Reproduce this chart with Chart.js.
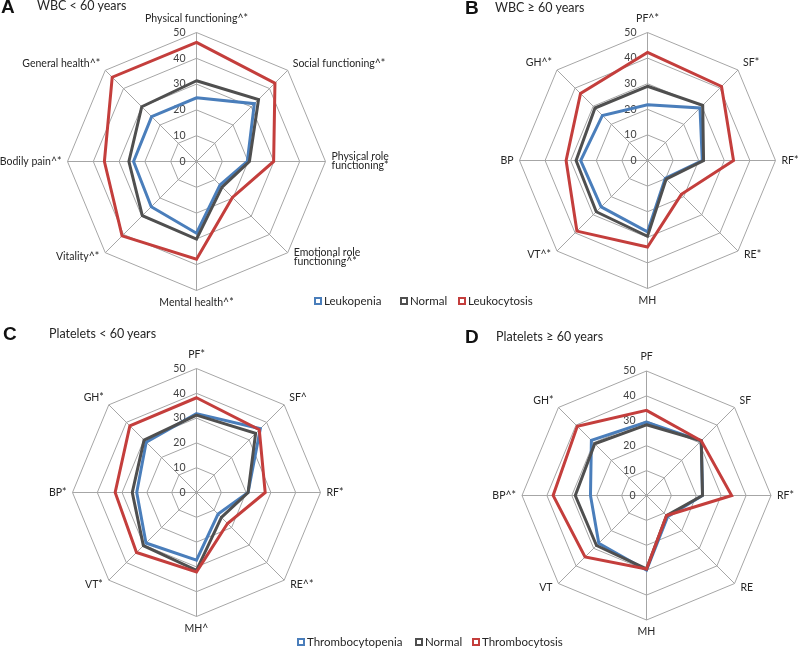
<!DOCTYPE html>
<html lang="en">
<head>
    <meta charset="UTF-8">
    <title>SF-36 radar charts by WBC and platelets</title>
    <style>
        body {
            margin: 0;
            background: #ffffff;
            font-family: Lato, "Open Sans", sans-serif;
            color: #262626;
        }

        .page {
            position: relative;
            width: 800px;
            height: 649px;
            overflow: hidden;
        }

        canvas {
            position: absolute;
        }

        .letter {
            position: absolute;
            font-family: "Liberation Sans", Arial, sans-serif;
            font-weight: bold;
            font-size: 19px;
            line-height: 20px;
            color: #111;
        }

        .title {
            position: absolute;
            font-size: 12.5px;
            line-height: 16px;
            white-space: nowrap;
        }

        .legend-item {
            position: absolute;
            display: flex;
            align-items: center;
            font-size: 11.5px;
            line-height: 14px;
            white-space: nowrap;
        }

        .legend-item span.box {
            box-sizing: border-box;
            width: 8px;
            height: 8px;
            border: 2.5px solid;
            background: #fff;
            margin-right: 2px;
        }
    </style>
    <script src="https://cdn.jsdelivr.net/npm/chart.js"></script>
</head>
<body>
<div class="page">
    <canvas id="chartA" width="420" height="320" style="left:0;top:0"></canvas>
    <canvas id="chartB" width="380" height="320" style="left:420px;top:0"></canvas>
    <canvas id="chartC" width="420" height="329" style="left:0;top:320px"></canvas>
    <canvas id="chartD" width="380" height="329" style="left:420px;top:320px"></canvas>

    <div class="letter" style="left:1px;top:-3px">A</div>
    <div class="title" style="left:37px;top:-2px">WBC &lt; 60 years</div>
    <div class="letter" style="left:465px;top:-2px">B</div>
    <div class="title" style="left:495px;top:0px">WBC ≥ 60 years</div>
    <div class="letter" style="left:3px;top:324px">C</div>
    <div class="title" style="left:49px;top:326px">Platelets &lt; 60 years</div>
    <div class="letter" style="left:465px;top:327px">D</div>
    <div class="title" style="left:496px;top:329px">Platelets ≥ 60 years</div>

    <div class="legend-item" style="left:314px;top:294px"><span class="box" style="border-color:#4a7ebb"></span>Leukopenia</div>
    <div class="legend-item" style="left:400px;top:294px"><span class="box" style="border-color:#4f4f4f"></span>Normal</div>
    <div class="legend-item" style="left:458px;top:294px"><span class="box" style="border-color:#c43e3c"></span>Leukocytosis</div>

    <div class="legend-item" style="left:297px;top:635px"><span class="box" style="border-color:#4a7ebb"></span>Thrombocytopenia</div>
    <div class="legend-item" style="left:415px;top:635px"><span class="box" style="border-color:#4f4f4f"></span>Normal</div>
    <div class="legend-item" style="left:472px;top:635px"><span class="box" style="border-color:#c43e3c"></span>Thrombocytosis</div>
</div>

<script>
    // spoke labels, clockwise from the top
    const wbcYoungLabels = ['Physical functioning^*', 'Social functioning^*', ['Physical role', 'functioning*'],
        ['Emotional role', 'functioning^*'], 'Mental health^*', 'Vitality^*', 'Bodily pain^*', 'General health^*'];
    const wbcOldLabels = ['PF^*', 'SF*', 'RF*', 'RE*', 'MH', 'VT^*', 'BP', 'GH^*'];
    const pltYoungLabels = ['PF*', 'SF^', 'RF*', 'RE^*', 'MH^', 'VT*', 'BP*', 'GH*'];
    const pltOldLabels = ['PF', 'SF', 'RF*', 'RE', 'MH', 'VT', 'BP^*', 'GH*'];
    const tickValues = [0, 10, 20, 30, 40, 50];

    // A: WBC < 60 years
    const leukopeniaYoung = [24.7, 31.7, 19.7, 12.9, 27.8, 24.8, 24.4, 24.6];
    const normalWbcYoung = [31.3, 34.0, 20.5, 14.0, 30.1, 29.7, 26.2, 30.0];
    const leukocytosisYoung = [46.2, 43.0, 29.9, 19.7, 37.9, 40.8, 35.7, 46.2];

    // B: WBC >= 60 years
    const leukopeniaOld = [21.8, 29.0, 21.4, 9.8, 27.9, 25.6, 26.1, 24.9];
    const normalWbcOld = [29.0, 30.5, 21.9, 10.3, 29.6, 28.3, 27.9, 29.0];
    const leukocytosisOld = [42.2, 40.9, 33.6, 18.7, 33.8, 39.0, 31.8, 37.0];

    // C: Platelets < 60 years
    const thrombocytopeniaYoung = [31.8, 36.4, 20.8, 12.3, 27.3, 28.8, 24.1, 28.7];
    const normalPltYoung = [31.2, 33.7, 20.8, 14.2, 31.4, 30.3, 25.9, 29.9];
    const thrombocytosisYoung = [38.2, 35.8, 27.7, 17.7, 32.0, 34.2, 32.8, 38.0];

    // D: Platelets >= 60 years
    const thrombocytopeniaOld = [29.5, 31.1, 22.5, 12.0, 30.0, 27.1, 22.5, 31.3];
    const normalPltOld = [28.4, 31.1, 22.5, 11.4, 29.5, 28.4, 28.6, 29.4];
    const thrombocytosisOld = [34.2, 31.1, 34.2, 11.4, 29.5, 34.9, 37.5, 39.3];

    const seriesColors = ['#4a7ebb', '#4f4f4f', '#c43e3c'];

    // tick numbers sit left of the vertical spoke, spoke labels outside the outer ring
    const spokeLabels = {
        id: 'spokeLabels',
        beforeDatasetsDraw(chart) {
            const s = chart.scales.r;
            const ctx = chart.ctx;
            ctx.save();
            ctx.font = '10.5px Lato';
            ctx.fillStyle = '#404040';
            ctx.textAlign = 'right';
            ctx.textBaseline = 'middle';
            tickValues.forEach(v => {
                ctx.fillText(String(v), s.xCenter - 11, s.yCenter - s.getDistanceFromCenterForValue(v));
            });
            ctx.restore();
        },
        afterDraw(chart) {
            const s = chart.scales.r;
            const ctx = chart.ctx;
            const lineH = 9;
            ctx.save();
            ctx.font = '10.5px Lato';
            ctx.fillStyle = '#262626';
            ctx.textBaseline = 'middle';
            chart.data.labels.forEach((lab, i) => {
                const lines = [].concat(lab);
                const p = s.getPointPosition(i, s.drawingArea);
                const a = s.getIndexAngle(i);
                const sin = Math.sin(a), cos = Math.cos(a);
                let x = p.x, midY = p.y;
                if (cos > 0.9) {
                    ctx.textAlign = 'center';
                    midY = p.y - 14 - (lines.length - 1) * lineH / 2;
                } else if (cos < -0.9) {
                    ctx.textAlign = 'center';
                    midY = p.y + 12 + (lines.length - 1) * lineH / 2;
                } else {
                    ctx.textAlign = sin > 0 ? 'left' : 'right';
                    if (Math.abs(sin) > 0.9) {
                        x += sin > 0 ? 6 : -6;
                    } else if (cos > 0) {
                        x += sin > 0 ? 5 : -5;
                        midY = p.y - 7;
                    } else {
                        x += sin > 0 ? 6 : -6;
                        midY = p.y + 4;
                    }
                }
                const top = midY - (lines.length - 1) * lineH / 2;
                lines.forEach((t, k) => ctx.fillText(t, x, top + k * lineH));
            });
            ctx.restore();
        }
    };

    function makeRadar(id, labels, series, names, center, radius) {
        return new Chart(document.getElementById(id), {
            type: 'radar',
            data: {
                labels: labels,
                datasets: series.map((d, i) => ({
                    label: names[i],
                    data: d,
                    borderColor: seriesColors[i],
                    borderWidth: 3,
                    borderJoinStyle: 'miter',
                    fill: false,
                    pointRadius: 0,
                    order: 3 - i
                }))
            },
            options: {
                responsive: false,
                animation: false,
                plugins: {
                    legend: { display: false },
                    tooltip: { enabled: false }
                },
                scales: {
                    r: {
                        min: 0,
                        max: 50,
                        ticks: { stepSize: 10, display: false },
                        grid: { color: '#a6a6a6', lineWidth: 1 },
                        angleLines: { color: '#a6a6a6', lineWidth: 1 },
                        pointLabels: { display: false },
                        afterFit: (scale) => {
                            scale.xCenter = center[0];
                            scale.yCenter = center[1];
                            scale.drawingArea = radius;
                        }
                    }
                }
            },
            plugins: [spokeLabels]
        });
    }

    const wbcNames = ['Leukopenia', 'Normal', 'Leukocytosis'];
    const pltNames = ['Thrombocytopenia', 'Normal', 'Thrombocytosis'];

    makeRadar('chartA', wbcYoungLabels, [leukopeniaYoung, normalWbcYoung, leukocytosisYoung], wbcNames, [196.5, 161.5], 129);
    makeRadar('chartB', wbcOldLabels, [leukopeniaOld, normalWbcOld, leukocytosisOld], wbcNames, [227.5, 160.5], 128);
    makeRadar('chartC', pltYoungLabels, [thrombocytopeniaYoung, normalPltYoung, thrombocytosisYoung], pltNames, [196.5, 172.5], 124);
    makeRadar('chartD', pltOldLabels, [thrombocytopeniaOld, normalPltOld, thrombocytosisOld], pltNames, [226.5, 175.5], 124.5);
</script>
</body>
</html>
